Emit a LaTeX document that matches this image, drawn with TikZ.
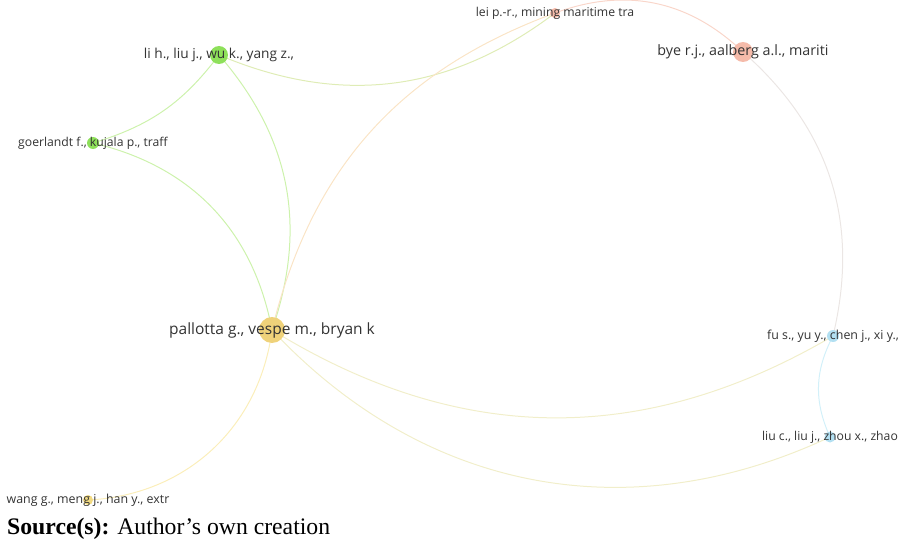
\documentclass[tikz,border=0pt]{standalone}
\usepackage{fontspec}
\setmainfont{Open Sans}
\newfontfamily\srcfont{Liberation Serif}
\usepackage{tikz}
\definecolor{txtgray}{HTML}{333333}
\definecolor{greennode}{HTML}{8EE05A}
\definecolor{goldnode}{HTML}{EFD27A}
\definecolor{salmonnode}{HTML}{F5BBAA}
\definecolor{bluenode}{HTML}{B3E0F2}
\definecolor{yellownode}{HTML}{F2DA82}
\definecolor{greenlink}{HTML}{CDF2AC}
\definecolor{goldlink}{HTML}{FBEEBA}
\definecolor{salmonlink}{HTML}{F9D6CA}
\definecolor{bluelink}{HTML}{D2F0F9}
\definecolor{orangelink}{HTML}{FAE4C6}

\begin{document}
\begin{tikzpicture}[
  x=1pt,y=-1pt,
  dot/.style={circle,inner sep=0pt,minimum size=#1},
  lab/.style={font=\fontsize{#1}{#1}\selectfont,text=txtgray,inner sep=0pt},
  link/.style={line width=1pt,draw=#1}
]
\useasboundingbox (0,0) rectangle (906,543);

% node centres
\coordinate (wu) at (219,55);
\coordinate (goer) at (93,143);
\coordinate (lei) at (555,13);
\coordinate (bye) at (743,52);
\coordinate (pall) at (272,330);
\coordinate (fu) at (833,336);
\coordinate (zhou) at (830,437);
\coordinate (wang) at (88,500);

% links
\draw[link=greenlink] (wu) to[bend left=18] (goer);
\draw[link=greenlink] (wu) to[bend left=30] (pall);
\draw[link=greenlink!60!orangelink] (wu) to[bend right=30] (lei);
\draw[link=greenlink] (goer) to[bend left=33] (pall);
\draw[link=orangelink] (pall) to[bend left=28] (lei);
\draw[link=salmonlink] (lei) to[bend left=32] (bye);
\draw[link=salmonlink!55!bluelink!85!white] (bye) to[bend left=31] (fu);
\draw[link=bluelink] (fu) to[bend right=26] (zhou);
\draw[link=goldlink!75!bluelink] (pall) to[bend right=31] (fu);
\draw[link=goldlink!75!bluelink] (pall) to[bend right=36] (zhou);
\draw[link=goldlink] (pall) to[bend left=40] (wang);

% dots
\node[dot=18pt,fill=greennode] (wudot) at (wu) {};
\node[dot=12pt,fill=greennode] (goerdot) at (goer) {};
\node[dot=10pt,fill=salmonnode] (leidot) at (lei) {};
\node[dot=20pt,fill=salmonnode] (byedot) at (bye) {};
\node[dot=26pt,fill=goldnode] (palldot) at (pall) {};
\node[dot=12pt,fill=bluenode] (fudot) at (fu) {};
\node[dot=11pt,fill=bluenode] (zhoudot) at (zhou) {};
\node[dot=10pt,fill=yellownode] (wangdot) at (wang) {};

% labels
\node[lab=13.7] (wulab) at (wu) {li h., liu j., wu k., yang z.,};
\node[lab=12.2] (goerlab) at (goer) {goerlandt f., kujala p., traff};
\node[lab=12.2] (leilab) at (lei) {lei p.-r., mining maritime tra};
\node[lab=14.3] (byelab) at (bye) {bye r.j., aalberg a.l., mariti};
\node[lab=15.5] (palllab) at (pall) {pallotta g., vespe m., bryan k};
\node[lab=12.4] (fulab) at (fu) {fu s., yu y., chen j., xi y.,};
\node[lab=12.2] (zhoulab) at (zhou) {liu c., liu j., zhou x., zhao};
\node[lab=12.4] (wanglab) at (wang) {wang g., meng j., han y., extr};

\node[anchor=base west,inner sep=0pt,font=\srcfont\fontsize{23.7}{23.7}\selectfont] (src) at (7,534)
  {\textbf{Source(s):} Author’s own creation};
\end{tikzpicture}
\end{document}
